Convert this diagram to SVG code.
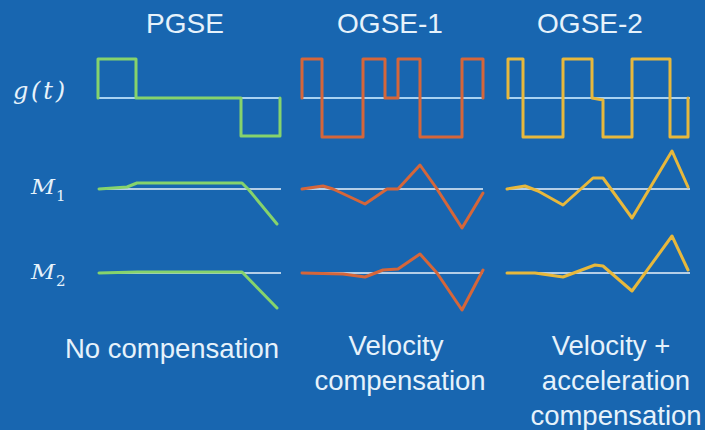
<svg xmlns="http://www.w3.org/2000/svg" width="705" height="430" viewBox="0 0 705 430">
<style>
.t{font-family:"Liberation Sans",Arial,sans-serif;fill:#e6f2fb;text-anchor:middle}
.h{font-size:28px}
.b{font-size:27.5px}
.m{font-family:"DejaVu Serif","Liberation Serif",serif;fill:#e6f2fb;font-style:italic}
.s{font-family:"DejaVu Serif","Liberation Serif",serif;fill:#e6f2fb;font-size:15px}
.base{stroke:#a8d2f2;stroke-width:2;fill:none}
.wb{stroke:#e8f2fa;stroke-width:1.6;fill:none}
.c{fill:none;stroke-width:3;stroke-linejoin:round;stroke-linecap:round}
.g{stroke:#86d36c}
.o{stroke:#d5663a}
.y{stroke:#e7b83c}
</style>
<rect width="705" height="430" fill="#1866b0"/>
<g id="titles">
<text class="t h" x="185" y="33">PGSE</text>
<text class="t h" x="390" y="33">OGSE-1</text>
<text class="t h" x="590" y="33">OGSE-2</text>
</g>
<g id="row-labels">
<text class="m" x="13" y="99" font-size="24" textLength="52" lengthAdjust="spacing">g(t)</text>
<text class="m" x="31" y="194" font-size="20" textLength="24" lengthAdjust="spacingAndGlyphs">M</text>
<text class="s" x="56" y="201">1</text>
<text class="m" x="31" y="279" font-size="20" textLength="24" lengthAdjust="spacingAndGlyphs">M</text>
<text class="s" x="56" y="286">2</text>
</g>
<g id="pgse">
<line class="base" x1="98" y1="98" x2="280" y2="98"/>
<path class="c g" d="M98,98 V59 H136 V98 H241 V136 H280 V98"/>
<line class="wb" x1="99" y1="189" x2="281" y2="189"/>
<path class="c g" d="M99,189 L127,187 L137,183 L242,183 L249,190 L277,224"/>
<line class="wb" x1="99" y1="273" x2="281" y2="273"/>
<path class="c g" d="M99,273 L137,272 L242,272 L277,308"/>
</g>
<g id="ogse1">
<line class="base" x1="302" y1="98" x2="483" y2="98"/>
<path class="c o" d="M302,98 V59 H322 V137 H363 V59 H385 V98 H398 V59 H420 V137 H462 V59 H483 V98"/>
<line class="wb" x1="302" y1="189" x2="483" y2="189"/>
<path class="c o" d="M302,189 L323,186 L333,189 L365,204 L387,189 L398,189 L420,165 L437,189 L462,228 L483,193"/>
<line class="wb" x1="302" y1="273" x2="483" y2="273"/>
<path class="c o" d="M302,273 L343,274 L365,277 L383,270 L398,269 L420,254 L437,273 L462,310 L483,270"/>
</g>
<g id="ogse2">
<line class="base" x1="508" y1="98" x2="690" y2="98"/>
<path class="c y" d="M508,98 V59 H523 V137 H563 V59 H592 V98 L603,100 V137 H632 V59 H670 V137 H688 V98"/>
<line class="wb" x1="507" y1="189" x2="690" y2="189"/>
<path class="c y" d="M507,189 L525,186 L538,191 L563,205 L593,178 L603,178 L632,218 L672,151 L688,187"/>
<line class="wb" x1="507" y1="273" x2="690" y2="273"/>
<path class="c y" d="M507,273 L535,273 L563,277 L595,265 L603,266 L632,291 L672,236 L688,270"/>
</g>
<g id="captions">
<text class="t b" x="172" y="358">No compensation</text>
<text class="t b" x="396" y="355">Velocity</text>
<text class="t b" x="400" y="390">compensation</text>
<text class="t b" x="611" y="355">Velocity +</text>
<text class="t b" x="616" y="390">acceleration</text>
<text class="t b" x="616" y="425">compensation</text>
</g>
</svg>
